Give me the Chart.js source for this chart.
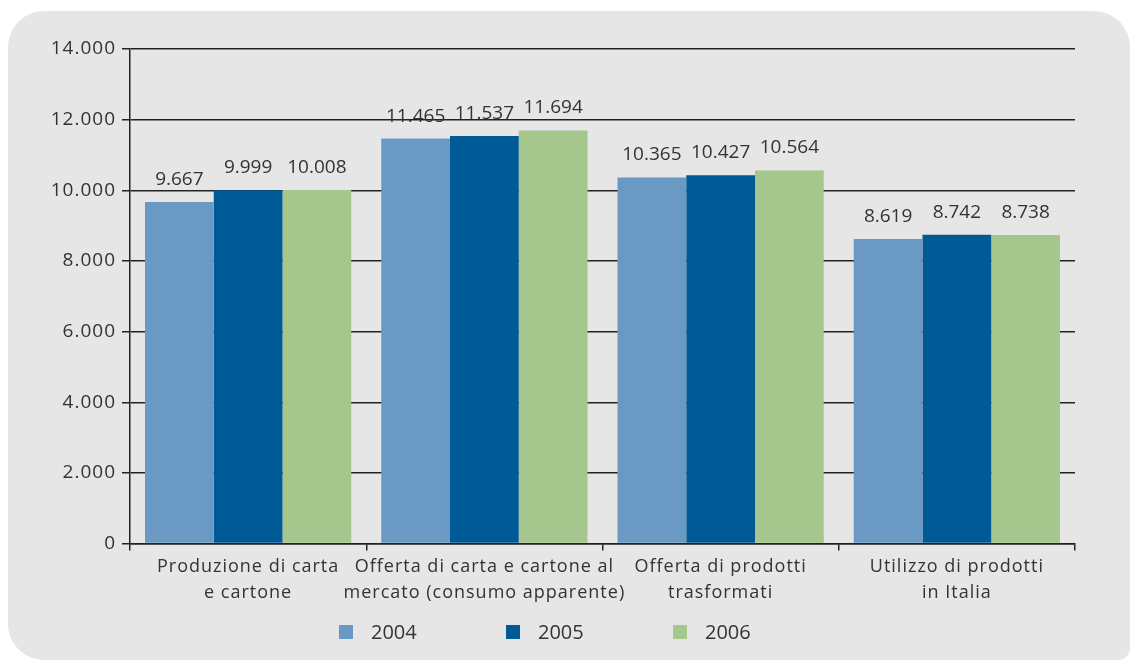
<!DOCTYPE html>
<html>
<head>
<meta charset="utf-8">
<script src="https://cdn.jsdelivr.net/npm/chart.js@4/dist/chart.umd.min.js"></script>
<style>
    html, body { margin: 0; padding: 0; background: #fff; }
    #wrap { position: relative; width: 1131px; height: 661px; overflow: hidden; }
    #panel {
        position: absolute; left: 8px; top: 11px; width: 1122px; height: 649px;
        background: #e6e6e6; border-radius: 36px 36px 12px 36px;
    }
    #chart { position: absolute; left: 0; top: 0; }
</style>
</head>
<body>
<div id="wrap">
    <div id="panel"></div>
    <canvas id="chart" width="1131" height="661"></canvas>
</div>
<script>
const categories = [
    ['Produzione di carta', 'e cartone'],
    ['Offerta di carta e cartone al', 'mercato (consumo apparente)'],
    ['Offerta di prodotti', 'trasformati'],
    ['Utilizzo di prodotti', 'in Italia']
];
const years = ['2004', '2005', '2006'];
const values2004 = [9667, 11465, 10365, 8619];
const values2005 = [9999, 11537, 10427, 8742];
const values2006 = [10008, 11694, 10564, 8738];
const yTicks = [0, 2000, 4000, 6000, 8000, 10000, 12000, 14000];
const colors = ['#6a9ac4', '#005a96', '#a5c68c'];

const FONT = '"Open Sans", "Noto Sans", sans-serif';
const TEXT = '#333333';

// separatore delle migliaia con il punto
function fmt(v) {
    return String(v).replace(/\B(?=(\d{3})+(?!\d))/g, '.');
}

// testo un po' spaziato come nell'originale
const spacing = {
    id: 'spacing',
    beforeLayout(chart) { chart.ctx.letterSpacing = '1px'; },
    beforeDraw(chart) { chart.ctx.letterSpacing = '1px'; }
};

// etichette dei valori sopra le barre
const valueLabels = {
    id: 'valueLabels',
    afterDatasetsDraw(chart) {
        const ctx = chart.ctx;
        ctx.save();
        ctx.letterSpacing = '0px';
        ctx.font = '19px ' + FONT;
        ctx.fillStyle = TEXT;
        ctx.textAlign = 'center';
        ctx.textBaseline = 'alphabetic';
        chart.data.datasets.forEach((ds, i) => {
            chart.getDatasetMeta(i).data.forEach((bar, j) => {
                ctx.fillText(fmt(ds.data[j]), bar.x, bar.y - 17);
            });
        });
        ctx.restore();
    }
};

// legenda in basso con le voci ben distanziate
const bottomLegend = {
    id: 'bottomLegend',
    afterDraw(chart) {
        const ctx = chart.ctx;
        const area = chart.chartArea;
        ctx.save();
        ctx.letterSpacing = '0px';
        ctx.font = '20px ' + FONT;
        ctx.textAlign = 'left';
        ctx.textBaseline = 'middle';
        chart.data.datasets.forEach((ds, i) => {
            const x = area.left + 209 + i * 167;
            const y = 632;
            ctx.fillStyle = ds.backgroundColor;
            ctx.fillRect(x, y - 7, 14, 14);
            ctx.fillStyle = TEXT;
            ctx.fillText(ds.label, x + 32, y + 1);
        });
        ctx.restore();
    }
};

new Chart(document.getElementById('chart'), {
    type: 'bar',
    data: {
        labels: categories,
        datasets: [values2004, values2005, values2006].map((d, i) => ({
            label: years[i],
            data: d,
            backgroundColor: colors[i],
            borderWidth: 0,
            categoryPercentage: 0.873,
            barPercentage: 1.0
        }))
    },
    options: {
        responsive: false,
        animation: false,
        devicePixelRatio: 1,
        layout: { padding: { left: 13, right: 56, top: 49, bottom: 52 } },
        plugins: {
            legend: { display: false },
            tooltip: { enabled: false }
        },
        scales: {
            x: {
                grid: {
                    offset: true,
                    drawOnChartArea: false,
                    drawTicks: true,
                    tickLength: 7,
                    color: '#222',
                    lineWidth: 1.5
                },
                border: { color: '#222', width: 1.5 },
                ticks: {
                    color: TEXT,
                    padding: 4,
                    maxRotation: 0,
                    autoSkip: false,
                    font: { family: FONT, size: 18, lineHeight: 1.4 }
                }
            },
            y: {
                min: 0,
                max: 14000,
                afterBuildTicks: (scale) => { scale.ticks = yTicks.map(v => ({ value: v })); },
                afterFit: (scale) => { scale.width = 117; },
                grid: {
                    color: '#222',
                    lineWidth: 1.5,
                    tickLength: 8
                },
                border: { color: '#222', width: 1.5 },
                ticks: {
                    color: TEXT,
                    padding: 6,
                    font: { family: FONT, size: 19 },
                    callback: (v) => fmt(v)
                }
            }
        }
    },
    plugins: [spacing, valueLabels, bottomLegend]
});
</script>
</body>
</html>
